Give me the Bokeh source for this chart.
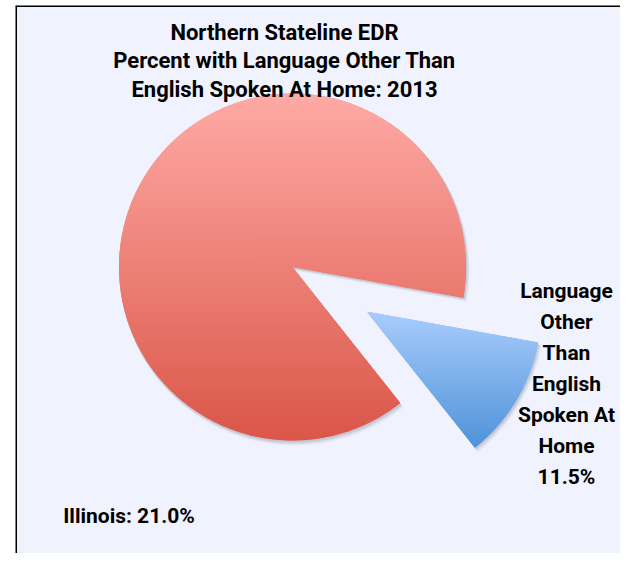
import numpy as np
from bokeh.plotting import figure
from bokeh.models import Range1d, Span
from bokeh.embed import file_html
from bokeh.resources import INLINE
from bokeh.core.properties import value

# ---- data ----
categories = ["Other (English only)", "Language Other Than English Spoken At Home"]
shares = [88.5, 11.5]
exploded = [False, True]
title_lines = ["Northern Stateline EDR", "Percent with Language Other Than", "English Spoken At Home: 2013"]
slice_label_lines = ["Language", "Other", "Than", "English", "Spoken At", "Home", "11.5%"]
note_text = "Illinois: 21.0%"

# ---- styles / layout ----
grad_top = ["#FFAAA5", "#A9CCFC"]
grad_bot = ["#DA5648", "#4E92D9"]
BG = "#F0F2FD"
FONT = value("Roboto")
W, H = 620, 553
LB, TB = 15, 5
FW, FH = W - LB, H - TB
cx, cy, R = 277.0, 286.5, 173.5
explode_dist = 87.0
first_edge_deg = -10.2  # angle where the blue slice begins (going clockwise)

p = figure(width=W, height=H, output_backend="svg", toolbar_location=None,
           x_range=Range1d(0, FW), y_range=Range1d(0, FH),
           min_border_left=LB, min_border_right=0, min_border_top=TB, min_border_bottom=0)
p.axis.visible = False
p.grid.visible = False
p.background_fill_color = BG
p.border_fill_color = "white"
p.outline_line_color = None
p.add_layout(Span(location=0.5, dimension="height", line_color="black", line_width=2))
p.add_layout(Span(location=FH - 0.5, dimension="width", line_color="black", line_width=2))


def hex2rgb(h):
    h = h.lstrip("#")
    return np.array([int(h[i:i + 2], 16) for i in (0, 2, 4)], dtype=float)


def rgb2hex(c):
    c = np.clip(np.round(c), 0, 255).astype(int)
    return "#%02x%02x%02x" % tuple(c)


def clip(poly, y0, keep_above):
    out = []
    n = len(poly)
    for i in range(n):
        P = poly[i]
        Q = poly[(i + 1) % n]
        inP = P[1] >= y0 if keep_above else P[1] <= y0
        inQ = Q[1] >= y0 if keep_above else Q[1] <= y0
        if inP:
            out.append(P)
        if inP != inQ:
            t = (y0 - P[1]) / (Q[1] - P[1])
            out.append((P[0] + t * (Q[0] - P[0]), y0))
    return out


total = sum(shares)
order = [1, 0]
angle = np.deg2rad(first_edge_deg)
slices = {}
for i in order:
    sweep = 2 * np.pi * shares[i] / total
    slices[i] = (angle - sweep, angle)
    angle = angle - sweep

for i in range(len(shares)):
    a0, a1 = slices[i]
    mid = (a0 + a1) / 2
    ox = cx + (explode_dist * np.cos(mid) if exploded[i] else 0)
    oy = cy + (explode_dist * np.sin(mid) if exploded[i] else 0)
    # soft shadow
    for k, al in [(3.5, 0.08), (2.5, 0.12), (1.5, 0.18)]:
        p.wedge(x=[ox + k * 0.6], y=[oy - k], radius=R + k * 0.4, start_angle=[a0], end_angle=[a1],
                fill_color="#6f7486", fill_alpha=al, line_color=None)
    midc = (hex2rgb(grad_top[i]) + hex2rgb(grad_bot[i])) / 2
    p.wedge(x=[ox], y=[oy], radius=R, start_angle=[a0], end_angle=[a1],
            fill_color=rgb2hex(midc), line_color=None)
    # gradient bands
    th = np.linspace(a0, a1, 240)
    poly = [(ox, oy)] + [(ox + R * np.cos(t), oy + R * np.sin(t)) for t in th]
    ys = [q[1] for q in poly]
    ymin, ymax = min(ys), max(ys)
    nb = 70
    edges = np.linspace(ymin, ymax, nb + 1)
    xs_l, ys_l, cols = [], [], []
    ct, cb = hex2rgb(grad_top[i]), hex2rgb(grad_bot[i])
    for b in range(nb):
        lo, hi = edges[b] - 0.6, edges[b + 1] + 0.6
        part = clip(clip(poly, lo, True), hi, False)
        if len(part) < 3:
            continue
        t = ((edges[b] + edges[b + 1]) / 2 - ymin) / (ymax - ymin)
        cols.append(rgb2hex(cb + (ct - cb) * t))
        xs_l.append([q[0] for q in part])
        ys_l.append([q[1] for q in part])
    p.patches(xs=xs_l, ys=ys_l, fill_color=cols, line_color=None)

# title
p.text(x=[269] * 3, y=[521.5, 493.5, 464.5], text=title_lines, text_font=FONT,
       text_font_style="bold", text_font_size="22px", text_align="center",
       text_baseline="middle", text_color="black")

# slice label
n = len(slice_label_lines)
p.text(x=[551] * n, y=[262.3 - 31 * k for k in range(n)], text=slice_label_lines, text_font=FONT,
       text_font_style="bold", text_font_size="21px", text_align="center",
       text_baseline="middle", text_color="black")

# note
p.text(x=[47.7], y=[38], text=[note_text], text_font=FONT, text_font_style="bold",
       text_font_size="21px", text_align="left", text_baseline="middle", text_color="black")

open("out.html", "w").write(file_html(p, INLINE))
